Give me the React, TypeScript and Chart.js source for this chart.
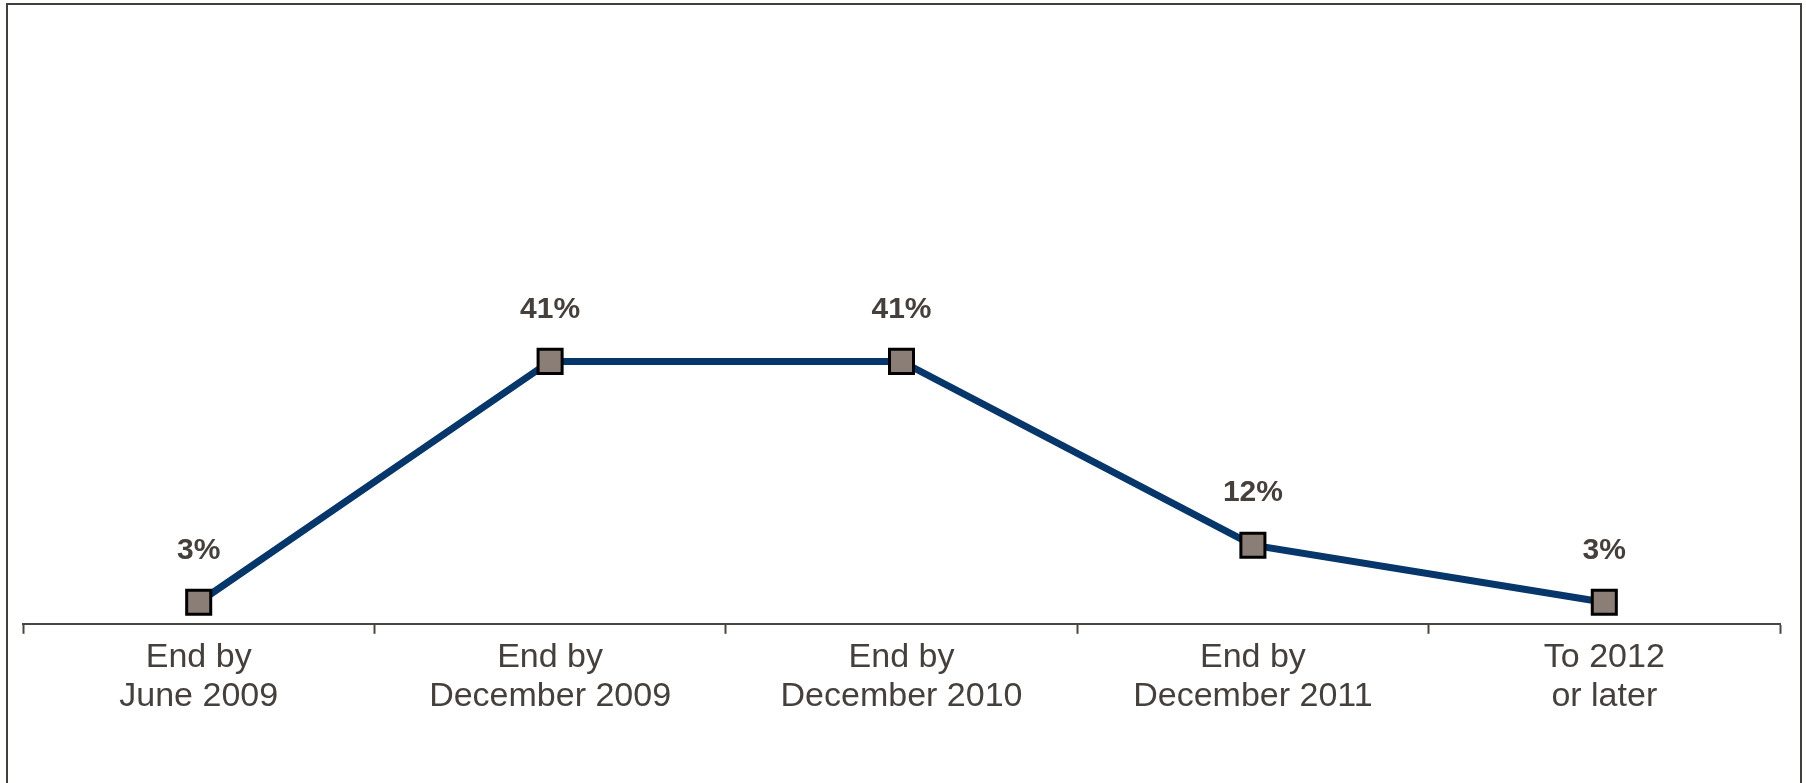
import React, { useEffect, useRef } from "react";
import { Chart, registerables } from "chart.js";

Chart.register(...registerables);

const categories: string[][] = [
  ["End by", "June 2009"],
  ["End by", "December 2009"],
  ["End by", "December 2010"],
  ["End by", "December 2011"],
  ["To 2012", "or later"],
];
const values: number[] = [3, 41, 41, 12, 3];
const valueLabels: string[] = ["3%", "41%", "41%", "12%", "3%"];

const TEXT = "#45403c";
const FONT = "'Liberation Sans', Arial, sans-serif";

const framePlugin = {
  id: "frame",
  afterDraw(chart: any) {
    const ctx = chart.ctx;
    ctx.save();
    ctx.strokeStyle = "#433f3b";
    ctx.lineWidth = 2;
    ctx.strokeRect(7, 4, 1794, 900);
    ctx.restore();
  },
};

const labelPlugin = {
  id: "valueLabels",
  afterDatasetsDraw(chart: any) {
    const ctx = chart.ctx;
    const meta = chart.getDatasetMeta(0);
    ctx.save();
    ctx.fillStyle = TEXT;
    ctx.font = `bold 30px ${FONT}`;
    ctx.textAlign = "center";
    ctx.textBaseline = "middle";
    meta.data.forEach((pt: any, i: number) => {
      ctx.fillText(valueLabels[i], pt.x, pt.y - 52);
    });
    ctx.restore();
  },
};

export default function App() {
  const ref = useRef<HTMLCanvasElement | null>(null);
  useEffect(() => {
    if (!ref.current) return;
    const chart = new Chart(ref.current, {
      type: "line",
      data: {
        labels: categories,
        datasets: [
          {
            data: values,
            borderColor: "#06366a",
            borderWidth: 7,
            pointStyle: "rect",
            pointRadius: 17,
            pointHoverRadius: 17,
            pointBackgroundColor: "#8b7e76",
            pointBorderColor: "#000000",
            pointBorderWidth: 3,
            tension: 0,
          },
        ],
      },
      options: {
        responsive: false,
        animation: false,
        events: [],
        layout: { padding: { left: 23, right: 26, top: 21, bottom: 63 } },
        plugins: {
          legend: { display: false },
          tooltip: { enabled: false },
        },
        scales: {
          x: {
            offset: true,
            grid: {
              display: true,
              offset: true,
              drawOnChartArea: false,
              drawTicks: true,
              tickLength: 10,
              tickColor: "#4a4541",
              tickWidth: 2,
            },
            border: { display: true, color: "#4a4541", width: 2 },
            ticks: {
              color: TEXT,
              font: { family: FONT, size: 34, lineHeight: 1.15 },
              padding: 4,
              maxRotation: 0,
              autoSkip: false,
            },
          },
          y: {
            display: false,
            min: -0.4,
            max: 94.7,
          },
        },
      },
      plugins: [framePlugin, labelPlugin],
    });
    return () => chart.destroy();
  }, []);
  return (
    <div style={{ position: "absolute", left: 0, top: 0, width: 1806, height: 783, background: "#fff" }}>
      <canvas ref={ref} width={1806} height={783} style={{ display: "block", width: 1806, height: 783 }} />
    </div>
  );
}
